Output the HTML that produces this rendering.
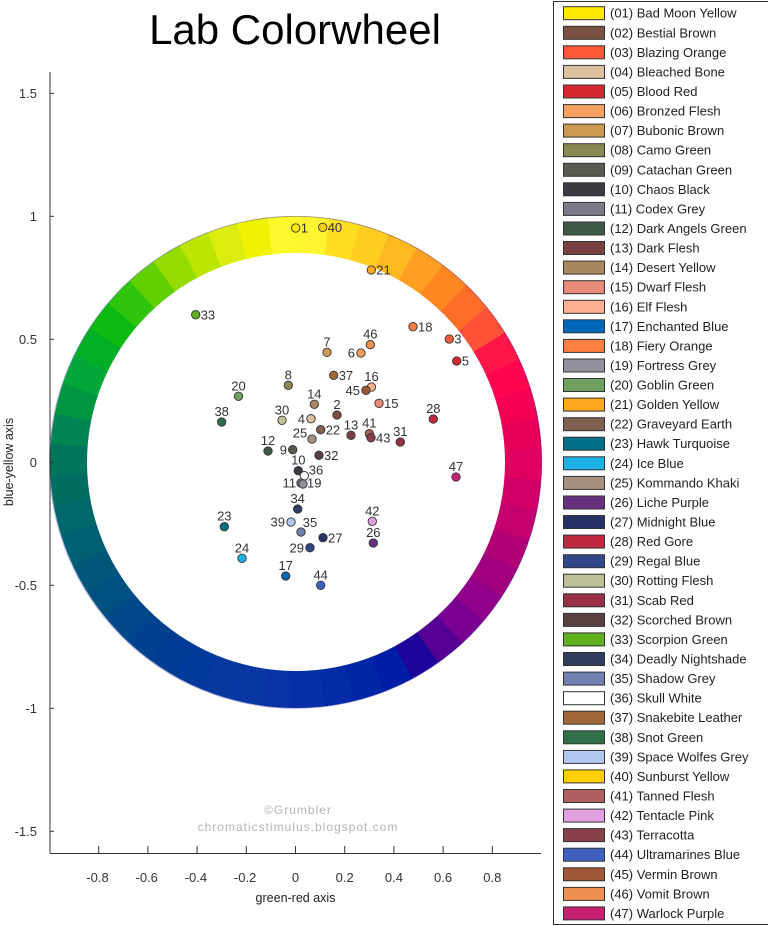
<!DOCTYPE html>
<html><head><meta charset="utf-8"><style>
html,body{margin:0;padding:0;background:#fff;}
#c{position:relative;width:768px;height:926px;overflow:hidden;background:#fff;}
.ring{position:absolute;left:49.5px;top:216.3px;width:492px;height:492px;border-radius:50%;
background:conic-gradient(from 87deg,#df0060 0 7.2deg,#d00068 0 14.4deg,#c4006e 0 21.6deg,#b20077 0 28.8deg,#a1007f 0 36deg,#910088 0 43.2deg,#790090 0 50.4deg,#550093 0 57.6deg,#1e059c 0 64.8deg,#001da7 0 72deg,#0026a8 0 79.2deg,#032ba8 0 86.4deg,#072fa8 0 93.6deg,#0832a6 0 100.8deg,#0836a2 0 108deg,#07389f 0 115.2deg,#02389a 0 122.4deg,#003c94 0 129.6deg,#00428e 0 136.8deg,#004888 0 144deg,#005080 0 151.2deg,#005779 0 158.4deg,#005f72 0 165.6deg,#00676a 0 172.8deg,#006d63 0 180deg,#00755b 0 187.2deg,#008552 0 194.4deg,#009641 0 201.6deg,#00a638 0 208.8deg,#00af24 0 216deg,#0dba12 0 223.2deg,#2ec50c 0 230.4deg,#60d000 0 237.6deg,#95db00 0 244.8deg,#bce502 0 252deg,#daed0f 0 259.2deg,#f1f103 0 266.4deg,#fbf92b 0 273.6deg,#fff430 0 280.8deg,#ffdd20 0 288deg,#ffcc20 0 295.2deg,#ffb920 0 302.4deg,#ff9e20 0 309.6deg,#ff8721 0 316.8deg,#ff6e29 0 324deg,#ff5238 0 331.2deg,#ff1648 0 338.4deg,#ff044f 0 345.6deg,#f30054 0 352.8deg,#e60059 0 360deg);}
.hole{position:absolute;left:86.5px;top:253.3px;width:418px;height:418px;border-radius:50%;background:#fff;}
svg{position:absolute;left:0;top:0;}
text{font-family:"Liberation Sans",Arial,sans-serif;}
</style></head><body><div id="c">
<div class="ring"></div>
<div class="hole"></div>
<svg width="768" height="926" viewBox="0 0 768 926" xmlns="http://www.w3.org/2000/svg">
<circle cx="295.5" cy="462.3" r="246" fill="none" stroke="#4040b0" stroke-width="0.8" stroke-opacity="0.5"/>
<text x="295" y="44" font-size="42" text-anchor="middle" fill="#000">Lab Colorwheel</text>
<!-- axes -->
<g stroke="#333" stroke-width="1" fill="none">
<line x1="50" y1="72" x2="50" y2="853.5"/>
<line x1="50" y1="853.5" x2="541" y2="853.5"/>
<line x1="50" y1="93.3" x2="54" y2="93.3"/>
<line x1="50" y1="216.3" x2="54" y2="216.3"/>
<line x1="50" y1="339.3" x2="54" y2="339.3"/>
<line x1="50" y1="462.3" x2="54" y2="462.3"/>
<line x1="50" y1="585.3" x2="54" y2="585.3"/>
<line x1="50" y1="708.3" x2="54" y2="708.3"/>
<line x1="50" y1="831.3" x2="54" y2="831.3"/>
<line x1="98.7" y1="846" x2="98.7" y2="853.5"/>
<line x1="147.9" y1="846" x2="147.9" y2="853.5"/>
<line x1="197.1" y1="846" x2="197.1" y2="853.5"/>
<line x1="246.3" y1="846" x2="246.3" y2="853.5"/>
<line x1="295.5" y1="846" x2="295.5" y2="853.5"/>
<line x1="344.7" y1="846" x2="344.7" y2="853.5"/>
<line x1="393.9" y1="846" x2="393.9" y2="853.5"/>
<line x1="443.1" y1="846" x2="443.1" y2="853.5"/>
<line x1="492.3" y1="846" x2="492.3" y2="853.5"/>
</g>
<g font-size="13" fill="#333" text-anchor="end">
<text x="37" y="98">1.5</text>
<text x="37" y="221">1</text>
<text x="37" y="344">0.5</text>
<text x="37" y="467">0</text>
<text x="37" y="590">-0.5</text>
<text x="37" y="713">-1</text>
<text x="37" y="836">-1.5</text>
</g>
<g font-size="13" fill="#333" text-anchor="middle">
<text x="97.5" y="882">-0.8</text>
<text x="146.7" y="882">-0.6</text>
<text x="195.9" y="882">-0.4</text>
<text x="245.1" y="882">-0.2</text>
<text x="295.5" y="882">0</text>
<text x="344.7" y="882">0.2</text>
<text x="393.9" y="882">0.4</text>
<text x="443.1" y="882">0.6</text>
<text x="492.3" y="882">0.8</text>
</g>
<text x="295.5" y="902" font-size="12.5" fill="#222" text-anchor="middle">green-red axis</text>
<text transform="translate(13,462) rotate(-90)" font-size="12.5" fill="#222" text-anchor="middle">blue-yellow axis</text>
<g font-size="12" fill="#b4b4b4" text-anchor="middle" letter-spacing="1">
<text x="298" y="814">©Grumbler</text>
<text x="298" y="831">chromaticstimulus.blogspot.com</text>
</g>
<!-- points -->
<g stroke="#333" stroke-width="0.9">
<circle cx="295.7" cy="228" r="4.2" fill="#ffe800"/>
<circle cx="322.7" cy="227.3" r="4.2" fill="#ffd000"/>
<circle cx="371.3" cy="270" r="4.2" fill="#ffa820"/>
<circle cx="195.7" cy="314.7" r="4.2" fill="#60b020"/>
<circle cx="413" cy="326.7" r="4.2" fill="#ff8040"/>
<circle cx="449.3" cy="339" r="4.2" fill="#ff5a38"/>
<circle cx="456.7" cy="361" r="4.2" fill="#d42830"/>
<circle cx="327" cy="352.3" r="4.2" fill="#cc9a52"/>
<circle cx="370.3" cy="344.7" r="4.2" fill="#f09050"/>
<circle cx="361" cy="353" r="4.2" fill="#f4a060"/>
<circle cx="333.7" cy="375.3" r="4.2" fill="#a06838"/>
<circle cx="371.5" cy="387" r="4.2" fill="#ffb090"/>
<circle cx="366" cy="390.3" r="4.2" fill="#a05838"/>
<circle cx="288.3" cy="385.3" r="4.2" fill="#8a8650"/>
<circle cx="238.5" cy="396.3" r="4.2" fill="#70a060"/>
<circle cx="379" cy="403.3" r="4.2" fill="#e88a78"/>
<circle cx="314.3" cy="404.3" r="4.2" fill="#a88660"/>
<circle cx="337" cy="415" r="4.2" fill="#7a5040"/>
<circle cx="221.7" cy="422" r="4.2" fill="#307048"/>
<circle cx="282" cy="420.3" r="4.2" fill="#c0c098"/>
<circle cx="311" cy="418.7" r="4.2" fill="#ddc0a0"/>
<circle cx="433.3" cy="419" r="4.2" fill="#c02840"/>
<circle cx="320.7" cy="429.7" r="4.2" fill="#806050"/>
<circle cx="351" cy="435.3" r="4.2" fill="#7a4040"/>
<circle cx="369.3" cy="433.7" r="4.2" fill="#b06060"/>
<circle cx="371" cy="437.7" r="4.2" fill="#884048"/>
<circle cx="400.3" cy="442" r="4.2" fill="#983048"/>
<circle cx="312" cy="439" r="4.2" fill="#a89080"/>
<circle cx="268" cy="451" r="4.2" fill="#3e5848"/>
<circle cx="292.7" cy="449.7" r="4.2" fill="#5a5a50"/>
<circle cx="319" cy="455.3" r="4.2" fill="#584040"/>
<circle cx="298.3" cy="470.7" r="4.2" fill="#3a3a40"/>
<circle cx="304.3" cy="475.7" r="4.2" fill="#ffffff"/>
<circle cx="301" cy="483" r="4.2" fill="#7a7a88"/>
<circle cx="303" cy="484" r="4.2" fill="#9090a0"/>
<circle cx="456" cy="477" r="4.2" fill="#c82070"/>
<circle cx="297.7" cy="509" r="4.2" fill="#303c60"/>
<circle cx="224.3" cy="526.7" r="4.2" fill="#007088"/>
<circle cx="291" cy="522" r="4.2" fill="#b0c8f0"/>
<circle cx="301" cy="532" r="4.2" fill="#7080b0"/>
<circle cx="372.3" cy="521.3" r="4.2" fill="#e0a0e0"/>
<circle cx="323" cy="537.7" r="4.2" fill="#283068"/>
<circle cx="373.3" cy="543" r="4.2" fill="#683080"/>
<circle cx="310" cy="547.7" r="4.2" fill="#304888"/>
<circle cx="242" cy="558.3" r="4.2" fill="#20b0e8"/>
<circle cx="285.7" cy="576" r="4.2" fill="#0068b8"/>
<circle cx="320.7" cy="585.3" r="4.2" fill="#4060c0"/>
</g>
<!-- point labels -->
<g font-size="13" fill="#333">
<text x="300.7" y="232.7">1</text>
<text x="327.7" y="232">40</text>
<text x="376.3" y="274.7">21</text>
<text x="200.7" y="319.4">33</text>
<text x="418" y="331.4">18</text>
<text x="454.3" y="343.7">3</text>
<text x="461.7" y="365.7">5</text>
<text x="338.7" y="380">37</text>
<text x="384" y="408">15</text>
<text x="325.7" y="434.4">22</text>
<text x="376" y="442.4">43</text>
<text x="324" y="460">32</text>
<text x="328" y="542.4">27</text>
<text x="307" y="487.5">19</text>
</g>
<g font-size="13" fill="#333" text-anchor="middle">
<text x="327" y="346.3">7</text>
<text x="370.3" y="338.7">46</text>
<text x="371.5" y="381">16</text>
<text x="288.3" y="379.3">8</text>
<text x="238.5" y="390.3">20</text>
<text x="314.3" y="398.3">14</text>
<text x="337" y="409">2</text>
<text x="221.7" y="416">38</text>
<text x="282" y="414.3">30</text>
<text x="433.3" y="413">28</text>
<text x="351" y="429.3">13</text>
<text x="369.3" y="427.7">41</text>
<text x="400.3" y="436">31</text>
<text x="300" y="437.4">25</text>
<text x="268" y="445">12</text>
<text x="298.3" y="464.7">10</text>
<text x="316" y="474.7">36</text>
<text x="456" y="471">47</text>
<text x="297.7" y="503">34</text>
<text x="224.3" y="520.7">23</text>
<text x="310" y="527">35</text>
<text x="372.3" y="515.3">42</text>
<text x="373.3" y="537">26</text>
<text x="242" y="552.3">24</text>
<text x="285.7" y="570">17</text>
<text x="320.7" y="579.3">44</text>
</g>
<g font-size="13" fill="#333" text-anchor="end">
<text x="355" y="357.7">6</text>
<text x="360" y="395">45</text>
<text x="305" y="423.4">4</text>
<text x="287" y="454.4">9</text>
<text x="296" y="487.5">11</text>
<text x="285" y="526.7">39</text>
<text x="304" y="552.4">29</text>
</g>
<!-- legend -->
<rect x="553.5" y="1.5" width="218" height="923" fill="#fff" stroke="#333" stroke-width="1"/>
<g stroke="#333" stroke-width="1">
<rect x="563.5" y="6.7" width="41" height="13" fill="#ffe800"/>
<rect x="563.5" y="26.3" width="41" height="13" fill="#7a5040"/>
<rect x="563.5" y="45.8" width="41" height="13" fill="#ff5a38"/>
<rect x="563.5" y="65.4" width="41" height="13" fill="#ddc0a0"/>
<rect x="563.5" y="85.0" width="41" height="13" fill="#d42830"/>
<rect x="563.5" y="104.6" width="41" height="13" fill="#f4a060"/>
<rect x="563.5" y="124.1" width="41" height="13" fill="#cc9a52"/>
<rect x="563.5" y="143.7" width="41" height="13" fill="#8a8650"/>
<rect x="563.5" y="163.3" width="41" height="13" fill="#5a5a50"/>
<rect x="563.5" y="182.8" width="41" height="13" fill="#3a3a40"/>
<rect x="563.5" y="202.4" width="41" height="13" fill="#7a7a88"/>
<rect x="563.5" y="222.0" width="41" height="13" fill="#3e5848"/>
<rect x="563.5" y="241.5" width="41" height="13" fill="#7a4040"/>
<rect x="563.5" y="261.1" width="41" height="13" fill="#a88660"/>
<rect x="563.5" y="280.7" width="41" height="13" fill="#e88a78"/>
<rect x="563.5" y="300.3" width="41" height="13" fill="#ffb090"/>
<rect x="563.5" y="319.8" width="41" height="13" fill="#0068b8"/>
<rect x="563.5" y="339.4" width="41" height="13" fill="#ff8040"/>
<rect x="563.5" y="359.0" width="41" height="13" fill="#9090a0"/>
<rect x="563.5" y="378.5" width="41" height="13" fill="#70a060"/>
<rect x="563.5" y="398.1" width="41" height="13" fill="#ffa820"/>
<rect x="563.5" y="417.7" width="41" height="13" fill="#806050"/>
<rect x="563.5" y="437.2" width="41" height="13" fill="#007088"/>
<rect x="563.5" y="456.8" width="41" height="13" fill="#20b0e8"/>
<rect x="563.5" y="476.4" width="41" height="13" fill="#a89080"/>
<rect x="563.5" y="496.0" width="41" height="13" fill="#683080"/>
<rect x="563.5" y="515.5" width="41" height="13" fill="#283068"/>
<rect x="563.5" y="535.1" width="41" height="13" fill="#c02840"/>
<rect x="563.5" y="554.7" width="41" height="13" fill="#304888"/>
<rect x="563.5" y="574.2" width="41" height="13" fill="#c0c098"/>
<rect x="563.5" y="593.8" width="41" height="13" fill="#983048"/>
<rect x="563.5" y="613.4" width="41" height="13" fill="#584040"/>
<rect x="563.5" y="632.9" width="41" height="13" fill="#60b020"/>
<rect x="563.5" y="652.5" width="41" height="13" fill="#303c60"/>
<rect x="563.5" y="672.1" width="41" height="13" fill="#7080b0"/>
<rect x="563.5" y="691.7" width="41" height="13" fill="#ffffff"/>
<rect x="563.5" y="711.2" width="41" height="13" fill="#a06838"/>
<rect x="563.5" y="730.8" width="41" height="13" fill="#307048"/>
<rect x="563.5" y="750.4" width="41" height="13" fill="#b0c8f0"/>
<rect x="563.5" y="769.9" width="41" height="13" fill="#ffd000"/>
<rect x="563.5" y="789.5" width="41" height="13" fill="#b06060"/>
<rect x="563.5" y="809.1" width="41" height="13" fill="#e0a0e0"/>
<rect x="563.5" y="828.6" width="41" height="13" fill="#884048"/>
<rect x="563.5" y="848.2" width="41" height="13" fill="#4060c0"/>
<rect x="563.5" y="867.8" width="41" height="13" fill="#a05838"/>
<rect x="563.5" y="887.4" width="41" height="13" fill="#f09050"/>
<rect x="563.5" y="906.9" width="41" height="13" fill="#c82070"/>
</g>
<g font-size="13" fill="#222">
<text x="610" y="17.7">(01) Bad Moon Yellow</text>
<text x="610" y="37.3">(02) Bestial Brown</text>
<text x="610" y="56.8">(03) Blazing Orange</text>
<text x="610" y="76.4">(04) Bleached Bone</text>
<text x="610" y="96.0">(05) Blood Red</text>
<text x="610" y="115.6">(06) Bronzed Flesh</text>
<text x="610" y="135.1">(07) Bubonic Brown</text>
<text x="610" y="154.7">(08) Camo Green</text>
<text x="610" y="174.3">(09) Catachan Green</text>
<text x="610" y="193.8">(10) Chaos Black</text>
<text x="610" y="213.4">(11) Codex Grey</text>
<text x="610" y="233.0">(12) Dark Angels Green</text>
<text x="610" y="252.5">(13) Dark Flesh</text>
<text x="610" y="272.1">(14) Desert Yellow</text>
<text x="610" y="291.7">(15) Dwarf Flesh</text>
<text x="610" y="311.3">(16) Elf Flesh</text>
<text x="610" y="330.8">(17) Enchanted Blue</text>
<text x="610" y="350.4">(18) Fiery Orange</text>
<text x="610" y="370.0">(19) Fortress Grey</text>
<text x="610" y="389.5">(20) Goblin Green</text>
<text x="610" y="409.1">(21) Golden Yellow</text>
<text x="610" y="428.7">(22) Graveyard Earth</text>
<text x="610" y="448.2">(23) Hawk Turquoise</text>
<text x="610" y="467.8">(24) Ice Blue</text>
<text x="610" y="487.4">(25) Kommando Khaki</text>
<text x="610" y="507.0">(26) Liche Purple</text>
<text x="610" y="526.5">(27) Midnight Blue</text>
<text x="610" y="546.1">(28) Red Gore</text>
<text x="610" y="565.7">(29) Regal Blue</text>
<text x="610" y="585.2">(30) Rotting Flesh</text>
<text x="610" y="604.8">(31) Scab Red</text>
<text x="610" y="624.4">(32) Scorched Brown</text>
<text x="610" y="643.9">(33) Scorpion Green</text>
<text x="610" y="663.5">(34) Deadly Nightshade</text>
<text x="610" y="683.1">(35) Shadow Grey</text>
<text x="610" y="702.7">(36) Skull White</text>
<text x="610" y="722.2">(37) Snakebite Leather</text>
<text x="610" y="741.8">(38) Snot Green</text>
<text x="610" y="761.4">(39) Space Wolfes Grey</text>
<text x="610" y="780.9">(40) Sunburst Yellow</text>
<text x="610" y="800.5">(41) Tanned Flesh</text>
<text x="610" y="820.1">(42) Tentacle Pink</text>
<text x="610" y="839.6">(43) Terracotta</text>
<text x="610" y="859.2">(44) Ultramarines Blue</text>
<text x="610" y="878.8">(45) Vermin Brown</text>
<text x="610" y="898.4">(46) Vomit Brown</text>
<text x="610" y="917.9">(47) Warlock Purple</text>
</g>
</svg>
</div></body></html>
